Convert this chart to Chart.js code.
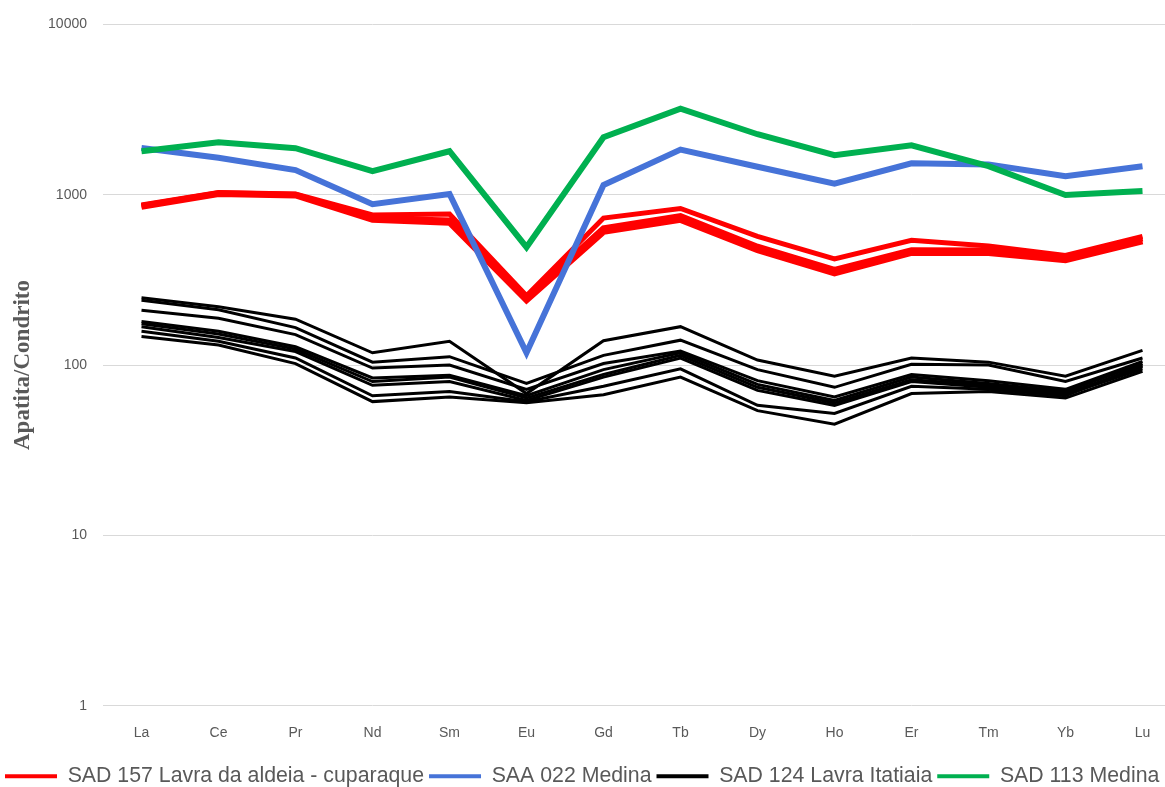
<!DOCTYPE html>
<html>
<head>
<meta charset="utf-8">
<script src="https://cdn.jsdelivr.net/npm/chart.js@4.4.1/dist/chart.umd.min.js"></script>
<style>
  html, body { margin: 0; padding: 0; background: #ffffff; overflow: hidden; width: 1165px; height: 787px; }
  canvas { display: block; }
</style>
</head>
<body>
<canvas id="ree" width="1181" height="797"></canvas>
<script>
// Rare earth elements (x axis)
const elements = ['La', 'Ce', 'Pr', 'Nd', 'Sm', 'Eu', 'Gd', 'Tb', 'Dy', 'Ho', 'Er', 'Tm', 'Yb', 'Lu'];

// Log-axis tick values
const yTickValues = [1, 10, 100, 1000, 10000];

// Series names shown in the legend
const seriesNames = ['SAD 157 Lavra da aldeia - cuparaque', 'SAA 022 Medina', 'SAD 124 Lavra Itatiaia', 'SAD 113 Medina'];

// SAD 157 Lavra da aldeia - cuparaque (apatite analyses)
const sad157a = [870, 1030, 1010, 760, 770, 255, 730, 830, 570, 420, 540, 500, 440, 570];
const sad157b = [860, 1020, 1000, 725, 705, 248, 635, 750, 495, 362, 472, 470, 425, 555];
const sad157c = [850, 1010, 990, 712, 685, 240, 605, 712, 472, 345, 455, 455, 412, 532];

// SAA 022 Medina
const saa022 = [1880, 1650, 1395, 880, 1010, 118, 1140, 1840, 1460, 1160, 1530, 1505, 1285, 1470];

// SAD 124 Lavra Itatiaia (apatite analyses)
const sad124a = [248, 220, 186, 118, 138, 68, 139, 168, 107, 86, 110, 104, 86, 122];
const sad124b = [240, 211, 166, 104, 112, 78, 114, 140, 94, 74, 101, 100, 80, 110];
const sad124c = [210, 188, 151, 96, 100, 72, 102, 121, 81, 65, 88, 81, 72, 105];
const sad124d = [180, 158, 128, 84, 87, 66, 94, 118, 77, 62, 85, 78, 70, 102];
const sad124e = [175, 152, 124, 80, 85, 64, 88, 114, 74, 60, 82, 76, 68, 98];
const sad124f = [168, 145, 120, 76, 80, 62, 85, 110, 71, 58, 80, 74, 67, 95];
const sad124g = [158, 138, 110, 66, 70, 61, 75, 95, 58, 52, 75, 72, 66, 100];
const sad124h = [147, 131, 102, 61, 65, 60, 67, 85, 54, 45, 68, 70, 64, 92];

// SAD 113 Medina
const sad113 = [1800, 2030, 1875, 1375, 1800, 492, 2175, 3200, 2265, 1705, 1950, 1470, 995, 1050];

const RED = '#ff0000', BLUE = '#4673d8', BLACK = '#000000', GREEN = '#00b050';

function line(label, data, color, width, order) {
  return {
    label, data,
    borderColor: color, backgroundColor: color,
    borderWidth: width, pointRadius: 0, pointHoverRadius: 0,
    tension: 0, fill: false, order,
    borderJoinStyle: 'miter', borderCapStyle: 'butt'
  };
}

const datasets = [
  line(seriesNames[0], sad157a, RED, 5, 4),
  line(seriesNames[0], sad157b, RED, 6, 4),
  line(seriesNames[0], sad157c, RED, 6, 4),
  line(seriesNames[1], saa022, BLUE, 6, 3),
  line(seriesNames[2], sad124a, BLACK, 3, 2),
  line(seriesNames[2], sad124b, BLACK, 3, 2),
  line(seriesNames[2], sad124c, BLACK, 3, 2),
  line(seriesNames[2], sad124d, BLACK, 3, 2),
  line(seriesNames[2], sad124e, BLACK, 3, 2),
  line(seriesNames[2], sad124f, BLACK, 3, 2),
  line(seriesNames[2], sad124g, BLACK, 3, 2),
  line(seriesNames[2], sad124h, BLACK, 3, 2),
  line(seriesNames[3], sad113, GREEN, 6, 1)
];

const legendColors = [RED, BLUE, BLACK, GREEN];
const AXIS_GREY = '#595959';

new Chart(document.getElementById('ree'), {
  type: 'line',
  data: { labels: elements, datasets },
  options: {
    responsive: false,
    animation: false,
    events: [],
    layout: { padding: { top: 24, right: 0, left: 0, bottom: 0 } },
    plugins: {
      tooltip: { enabled: false },
      legend: {
        position: 'bottom',
        align: 'start',
        labels: {
          boxWidth: 52,
          boxHeight: 4,
          padding: 5,
          color: AXIS_GREY,
          font: { family: "'Liberation Sans', Arial, sans-serif", size: 21.3 },
          generateLabels: () => seriesNames.map((name, i) => ({
            text: name,
            fillStyle: legendColors[i],
            strokeStyle: legendColors[i],
            lineWidth: 0,
            hidden: false,
            fontColor: AXIS_GREY,
            datasetIndex: i
          }))
        }
      }
    },
    scales: {
      x: {
        type: 'category',
        offset: true,
        grid: { display: false, drawTicks: false },
        border: { display: false },
        ticks: {
          color: AXIS_GREY,
          padding: 19,
          font: { family: "'Liberation Sans', Arial, sans-serif", size: 14 }
        },
        afterFit: (s) => { s.height = 55; }
      },
      y: {
        type: 'logarithmic',
        min: 1,
        max: 10000,
        afterBuildTicks: (s) => { s.ticks = yTickValues.map(v => ({ value: v })); },
        grid: { color: '#d9d9d9', lineWidth: 1, drawTicks: false },
        border: { display: false },
        ticks: {
          color: AXIS_GREY,
          padding: 16,
          font: { family: "'Liberation Sans', Arial, sans-serif", size: 14 },
          callback: (v) => String(v)
        },
        title: {
          display: true,
          text: 'Apatita/Condrito',
          color: AXIS_GREY,
          padding: { top: 9, bottom: 0 },
          font: { family: "'Liberation Serif', 'Times New Roman', serif", size: 23, weight: 'bold' }
        },
        afterFit: (s) => { s.width = 103; }
      }
    }
  }
});
</script>
</body>
</html>
